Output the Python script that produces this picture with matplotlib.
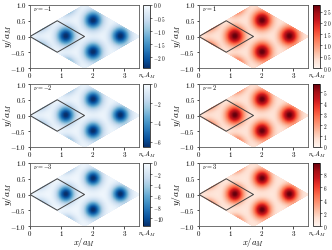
import matplotlib
matplotlib.use('Agg')
import matplotlib.pyplot as plt
from matplotlib.ticker import FuncFormatter
import numpy as np

plt.rcParams['font.family'] = 'serif'
plt.rcParams['font.serif'] = ['cmr10', 'DejaVu Serif']
plt.rcParams['mathtext.fontset'] = 'cm'
plt.rcParams['axes.formatter.use_mathtext'] = True

# Data
fillings = [-1, 1, -2, 2, -3, 3]
panel_labels = [r'$\nu=-1$', r'$\nu=1$', r'$\nu=-2$', r'$\nu=2$', r'$\nu=-3$', r'$\nu=3$']
peak_values = [-2.41, 2.79, -6.55, 5.76, -11.4, 9.75]      # density at the peak
background = [-0.15, 0.30, -0.35, 0.60, -0.45, 0.85]      # density far from peaks
peak_width = [0.19, 0.19, 0.18, 0.18, 0.17, 0.17]        # gaussian width (units of a_M)
cbar_ticks = [[0.0, -0.5, -1.0, -1.5, -2.0],
              [0.0, 0.5, 1.0, 1.5, 2.0, 2.5],
              [0, -2, -4, -6],
              [0, 1, 2, 3, 4, 5],
              [0, -2, -4, -6, -8, -10],
              [0, 2, 4, 6, 8]]
cbar_digits = [1, 1, 0, 0, 0, 0]
x_ticks = [0, 1, 2, 3]
y_ticks = [-1.0, -0.5, 0.0, 0.5, 1.0]

# moire lattice (a_M = 1)
a1 = np.array([np.sqrt(3) / 2, 0.5])
a2 = np.array([np.sqrt(3) / 2, -0.5])
site = 2.0 / 3.0 * (a1 + a2)   # peak position inside the unit cell

# skewed grid covering 2x2 unit cells
s = np.linspace(0, 2, 241)
S, T = np.meshgrid(s, s)
X = S * a1[0] + T * a2[0]
Y = S * a1[1] + T * a2[1]


def density(k):
    bump = np.zeros_like(X)
    for n in range(-2, 4):
        for m in range(-2, 4):
            c = site + n * a1 + m * a2
            r2 = (X - c[0]) ** 2 + (Y - c[1]) ** 2
            bump += np.exp(-r2 / (2 * peak_width[k] ** 2))
            bump += 0.3 * np.exp(-r2 / (2 * (1.8 * peak_width[k]) ** 2))
    bump = (bump - bump.min()) / (bump.max() - bump.min())
    return background[k] + (peak_values[k] - background[k]) * bump


def tick_fmt(d):
    return FuncFormatter(lambda v, p: r'$%.*f$' % (d, v))


fig = plt.figure(figsize=(3.32, 2.5), dpi=100)

col_left = [30 / 332, 199 / 332]
cbar_left = [143 / 332, 313 / 332]
row_bottom = [1 - 68 / 250, 1 - 147 / 250, 1 - 226 / 250]
ax_w = 109 / 332
ax_h = 63 / 250
cb_w = 7 / 332

cell = np.array([[0, 0], a1, a1 + a2, a2, [0, 0]])

for k, nu in enumerate(fillings):
    row, col = k // 2, k % 2
    ax = fig.add_axes([col_left[col], row_bottom[row], ax_w, ax_h])
    cax = fig.add_axes([cbar_left[col], row_bottom[row], cb_w, ax_h])

    Z = density(k)
    if nu < 0:
        cmap, vmin, vmax = 'Blues_r', peak_values[k], 0
    else:
        cmap, vmin, vmax = 'Reds', 0, peak_values[k]
    pm = ax.pcolormesh(X, Y, Z, cmap=cmap, vmin=vmin, vmax=vmax,
                       shading='gouraud', rasterized=True)
    ax.plot(cell[:, 0], cell[:, 1], color='0.25', lw=0.7)

    ax.set_xlim(0, 2 * np.sqrt(3))
    ax.set_ylim(-1, 1)
    ax.set_xticks(x_ticks)
    ax.set_yticks(y_ticks)
    ax.tick_params(labelsize=5, length=1.8, width=0.5, pad=1)
    ax.tick_params(axis='x', pad=0.5)
    ax.set_ylabel(r'$y/a_M$', fontsize=7)
    ax.yaxis.set_label_coords(-0.205, 0.5)
    ax.yaxis.label.set_va('center')
    if row == 2:
        ax.set_xlabel(r'$x/a_M$', fontsize=6.2)
        ax.xaxis.set_label_coords(col_left[col] + ax_w / 2, 0.004,
                                  transform=fig.transFigure)
        ax.xaxis.label.set_va('bottom')
    for sp in ax.spines.values():
        sp.set_linewidth(0.6)
        sp.set_color('0.35')
    ax.text(0.03, 0.9, panel_labels[k], transform=ax.transAxes, fontsize=4.5)

    cb = fig.colorbar(pm, cax=cax, ticks=cbar_ticks[k], format=tick_fmt(cbar_digits[k]))
    cb.ax.tick_params(labelsize=3.8, length=1.5, width=0.4, pad=1)
    cb.outline.set_linewidth(0.5)
    cax.set_xlabel(r'$n_\nu A_M$', fontsize=4.6, labelpad=1.8)

fig.savefig('out.png', dpi=100)
